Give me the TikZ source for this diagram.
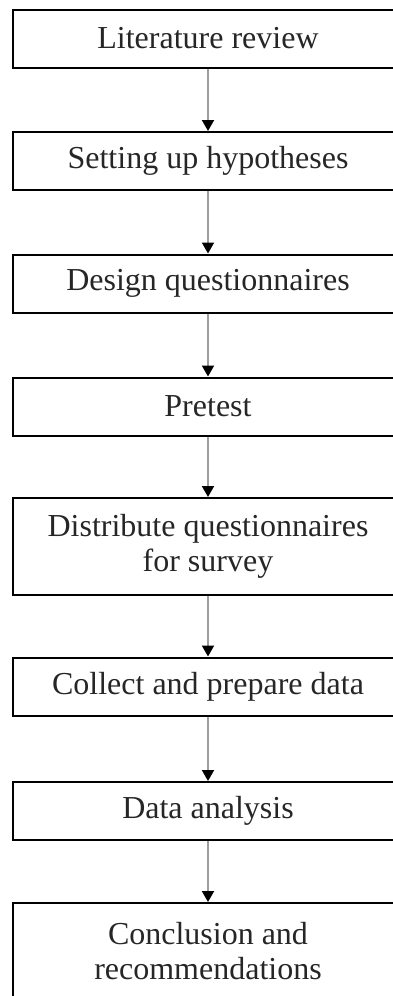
\documentclass[tikz,border=0pt]{standalone}
\usepackage{fontspec}
\setmainfont{Liberation Serif}
\usetikzlibrary{arrows.meta}
\begin{document}
\begin{tikzpicture}[x=1pt,y=1pt,
  stepbox/.style={draw=black,line width=2pt,minimum width=390pt,inner sep=0pt,
    font=\fontsize{32}{35}\selectfont,text=black!85,align=center,anchor=center},
  onebox/.style={stepbox,minimum height=58pt},
  twobox/.style={stepbox,minimum height=97pt},
  flow/.style={draw=black!38,line width=2pt,-{Triangle[width=12pt,length=11pt,color=black]}}]
\useasboundingbox (0,0) rectangle (393,-996);
\clip (0,0) rectangle (393,-996);
\node[onebox] (n1) at (208,-38.5) {Literature review};
\node[onebox] (n2) at (208,-161) {Setting up hypotheses};
\node[onebox] (n3) at (208,-283.5) {Design questionnaires};
\node[onebox] (n4) at (208,-406.5) {Pretest};
\node[twobox] (n5) at (208,-546.5) {Distribute questionnaires\\for survey};
\node[onebox] (n6) at (208,-686.5) {Collect and prepare data};
\node[onebox] (n7) at (208,-811) {Data analysis};
\node[twobox] (n8) at (208,-951.5) {Conclusion and\\recommendations};
\foreach \a/\b in {n1/n2,n2/n3,n3/n4,n4/n5,n5/n6,n6/n7,n7/n8}
  \draw[flow] (\a.south) -- (\b.north);
\end{tikzpicture}
\end{document}
